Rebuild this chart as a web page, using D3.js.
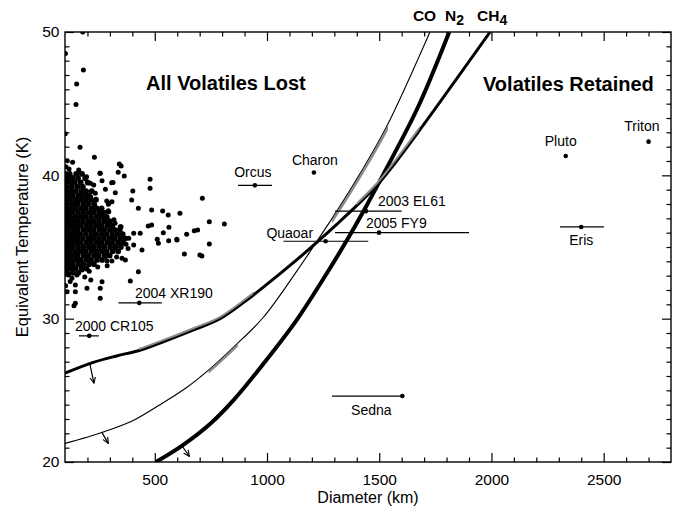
<!DOCTYPE html>
<html><head><meta charset="utf-8">
<script src="https://cdn.jsdelivr.net/npm/d3@7"></script>
<style>
body{margin:0;background:#fff}
svg{display:block}
text{font-family:"Liberation Sans",Arial,Helvetica,sans-serif;fill:#000}
</style>
</head><body>
<svg id="c" width="676" height="508"></svg>
<script>
// ---------- DATA ----------
const xDomain = [100, 2800];
const yDomain = [20, 50];
const xTicksMajor = [500, 1000, 1500, 2000, 2500];
const xTickLabels = ["500", "1000", "1500", "2000", "2500"];
const yTicksMajor = [20, 30, 40, 50];
const yTickLabels = ["20", "30", "40", "50"];

// Volatile retention curves [diameter km, temperature K]
const curveCO = [[100,21.3],[271,22.1],[404,22.9],[523,24.0],[642,25.2],[746,26.5],[850,28.0],[984,30.1],[1132,33.3],[1214,35.2],[1311,37.5],[1414,40.1],[1533,43.4],[1726,50.0]];
const curveN2 = [[505,20.0],[627,21.2],[746,22.65],[850,24.3],[984,26.85],[1132,29.9],[1236,32.4],[1340,35.05],[1444,37.9],[1533,40.5],[1674,44.8],[1812,50.0]];
const curveCH4 = [[100,26.2],[226,26.95],[330,27.4],[434,27.8],[523,28.3],[670,29.2],[791,30.0],[893,31.1],[984,32.2],[1132,34.1],[1227,35.4],[1312,36.6],[1401,37.9],[1490,39.3],[1548,40.4],[1673,43.0],[1994,50.0]];
// grey (alternate) portions of curves: diameter ranges
const greyCO = [[740,870],[1290,1540]];
const greyCH4 = [[430,940],[1400,1680]];
// arrows [D0,T0,D1,T1]
const arrowsData = [[210,26.9,229,25.5],[263,22.1,293,21.3],[620,21.15,654,20.4]];

// Named objects: name, D, T, Dlow, Dhigh
const objNames = ["Orcus","Charon","Quaoar","2003 EL61","2005 FY9","2004 XR190","2000 CR105","Sedna","Pluto","Eris","Triton"];
const objD =     [946, 1209, 1261, 1441, 1499, 431, 208, 1603, 2331, 2400, 2700];
const objT =     [39.3, 40.2, 35.4, 37.5, 36.0, 31.1, 28.8, 24.6, 41.35, 36.4, 42.35];
const objDlo =   [871, null, 1073, 1303, 1303, 338, 162, 1290, null, 2305, null];
const objDhi =   [1022, null, 1451, 1600, 1900, 531, 251, 1603, null, 2501, null];

// KBO scatter: isolated points [D,T]
const kboSparse = [
[179,50.0],[102,48.5],[182,47.35],[152,46.37],[149,44.95],[101,42.9],[167,41.96],[231,41.26],[110,41.02],[134,40.91],
[342,40.79],[350,40.65],[256,40.14],[337,40.21],[364,39.95],[479,39.72],[479,39.1],[308,39.49],[402,38.91],[397,38.28],
[427,37.7],[486,37.58],[535,37.51],[560,37.23],[612,37.35],[712,38.4],[743,36.77],[810,36.6],[471,36.47],[486,36.54],
[538,36.0],[563,36.38],[598,35.54],[642,35.89],[676,36.14],[691,36.19],[743,35.21],[632,34.51],[701,34.44],[710,34.37],
[511,35.54],[516,35.26],[562,35.44],[427,33.28],[286,38.21],[293,37.98],[293,37.53],[323,36.65],[350,36.42],[406,35.96],
[435,35.96],[599,35.49],[406,35.14],[443,34.79],[384,35.61],[354,34.21],[369,34.09],[280,34.32],[287,34.02],[309,34.02],
[176,33.4],[153,33.05],[116,33.05],[131,32.82],[265,32.58],[391,32.63],[146,32.35],[198,32.12],[257,32.12],[109,31.88],
[146,31.88],[257,31.42],[146,31.07],[140,30.9],[346,36.42],[280,39.03],[314,39.5],[228,39.33],[213,39.44],[265,39.63],
[235,38.75],[324,38.79],[309,38.16],[295,38.05],[243,37.7],[295,37.46],[257,40.14],[161,40.37],[168,40.14],
[104,40.6],[118,40.45],[196,39.9],[214,38.5],[232,37.95],[254,37.3],[318,36.9],[372,35.2],[381,34.9],[330,34.3],
[288,33.7],[246,33.6],[208,33.3],[123,32.6],[103,32.3],[188,32.9],[215,32.7]
];
// KBO dense cluster rows: temperature and diameters
const kboRowT = [40.1,39.8,39.5,39.2,38.9,38.6,38.3,38.0,37.7,37.4,37.1,36.8,36.5,36.2,35.9,35.6,35.3,35.0,34.7,34.4,34.1,33.8,33.5,33.2];
const kboRowD = [
[103,121,150,176],
[110,133,158,190],
[101,124,144,170,201],
[108,131,156,180],
[102,125,147,172,194,219],
[112,135,160,183,206],
[101,123,146,168,193,216,238],
[110,134,156,181,203,229],
[102,124,147,171,193,218,240,263],
[112,134,158,181,206,228,252,274],
[101,123,146,170,192,216,241,263,286],
[111,133,157,180,204,227,251,276,299],
[102,124,146,170,194,216,240,263,288,311],
[112,135,157,182,205,228,253,275,300,322,344],
[101,124,146,168,193,217,239,264,286,311,333,357],
[111,133,157,180,205,227,251,274,299,321,346,368],
[102,125,147,169,194,216,241,263,288,310,336,358],
[112,134,158,181,206,228,252,275,301,324,349],
[101,123,147,169,192,217,239,264,286,313,337],
[111,135,156,182,203,229,250,277,299],
[102,124,148,169,194,216,242,265],
[112,134,159,181,207,229],
[101,125,147,173,196],
[110,135,159]
];

// ---------- LAYOUT ----------
const W = 676, H = 508;
const m = {left:65, right:5, top:32, bottom:46};
const iw = W - m.left - m.right, ih = H - m.top - m.bottom;
const svg = d3.select("#c");
const g = svg.append("g").attr("transform", `translate(${m.left},${m.top})`);
const x = d3.scaleLinear().domain(xDomain).range([0, iw]);
const y = d3.scaleLinear().domain(yDomain).range([ih, 0]);

const defs = svg.append("defs");
defs.append("clipPath").attr("id","plotclip")
  .append("rect").attr("x",0).attr("y",0).attr("width",iw).attr("height",ih);

const FONT = '"Liberation Sans",Arial,Helvetica,sans-serif';

// ---------- AXES ----------
const xMinor = d3.range(200, 2800, 100).filter(v => v % 500 !== 0);
const yMinor = d3.range(21, 50, 1).filter(v => v % 10 !== 0);
const MAJ = 9, MIN = 4.5;
function styleAxis(sel){
  sel.select(".domain").remove();
  sel.selectAll("line").attr("stroke","#000").attr("stroke-width",1.2);
  sel.selectAll("text").style("font-family",FONT).style("font-size","15.5px").attr("fill","#000");
}
g.append("g").attr("transform",`translate(0,${ih})`)
  .call(d3.axisBottom(x).tickValues(xTicksMajor).tickSize(-MAJ).tickPadding(11.5).tickFormat((d,i)=>xTickLabels[i]))
  .call(styleAxis);
g.append("g").attr("transform",`translate(0,${ih})`)
  .call(d3.axisBottom(x).tickValues(xMinor).tickSize(-MIN).tickFormat(""))
  .call(styleAxis);
g.append("g")
  .call(d3.axisTop(x).tickValues(xTicksMajor).tickSize(-MAJ).tickFormat(""))
  .call(styleAxis);
g.append("g")
  .call(d3.axisTop(x).tickValues(xMinor).tickSize(-MIN).tickFormat(""))
  .call(styleAxis);
g.append("g")
  .call(d3.axisLeft(y).tickValues(yTicksMajor).tickSize(-MAJ).tickPadding(5.5).tickFormat((d,i)=>yTickLabels[i]))
  .call(styleAxis);
g.append("g")
  .call(d3.axisLeft(y).tickValues(yMinor).tickSize(-MIN).tickFormat(""))
  .call(styleAxis);
g.append("g").attr("transform",`translate(${iw},0)`)
  .call(d3.axisRight(y).tickValues(yTicksMajor).tickSize(-MAJ).tickFormat(""))
  .call(styleAxis);
g.append("g").attr("transform",`translate(${iw},0)`)
  .call(d3.axisRight(y).tickValues(yMinor).tickSize(-MIN).tickFormat(""))
  .call(styleAxis);

g.append("rect").attr("x",0).attr("y",0).attr("width",iw).attr("height",ih)
  .attr("fill","none").attr("stroke","#000").attr("stroke-width",1.4);

// axis titles
svg.append("text").attr("x", m.left + iw / 2).attr("y", 503)
  .attr("text-anchor","middle").style("font-size","16px").text("Diameter (km)");
svg.append("text").attr("transform",`translate(28,${m.top + y(35.7)}) rotate(-90)`)
  .attr("text-anchor","middle").style("font-size","16.5px").text("Equivalent Temperature (K)");

// ---------- SCATTER ----------
const plot = g.append("g").attr("clip-path","url(#plotclip)");
plot.append("g").selectAll("circle").data(kboSparse).join("circle")
  .attr("cx", d => x(d[0])).attr("cy", d => y(d[1])).attr("r", 2.5).attr("fill","#000");
const kboDense = [];
kboRowT.forEach((t,i) => kboRowD[i].forEach(d => kboDense.push([d,t])));
plot.append("g").selectAll("circle").data(kboDense).join("circle")
  .attr("cx", d => x(d[0])).attr("cy", d => y(d[1])).attr("r", 2.9).attr("fill","#000");

// ---------- CURVES ----------
const line = d3.line().x(d => x(d[0])).y(d => y(d[1])).curve(d3.curveCatmullRom.alpha(0.5));
plot.append("path").datum(curveCO).attr("d", line).attr("fill","none").attr("stroke","#000").attr("stroke-width",1.1);
plot.append("path").datum(curveCH4).attr("d", line).attr("fill","none").attr("stroke","#000").attr("stroke-width",3);
plot.append("path").datum(curveN2).attr("d", line).attr("fill","none").attr("stroke","#000").attr("stroke-width",4);

function greySegs(curve, segs, key, dx, dy, w){
  segs.forEach((s,i) => {
    const id = `gclip_${key}_${i}`;
    defs.append("clipPath").attr("id", id).append("rect")
      .attr("x", x(s[0])).attr("y", 0).attr("width", x(s[1]) - x(s[0])).attr("height", ih);
    plot.append("g").attr("clip-path", `url(#${id})`)
      .append("path").datum(curve).attr("d", line)
      .attr("transform", `translate(${dx},${dy})`)
      .attr("fill","none").attr("stroke","#8a8a8a").attr("stroke-width", w);
  });
}
greySegs(curveCH4, greyCH4, "ch4", -0.7, -1.4, 2.0);
greySegs(curveCO, greyCO, "co", 1.6, 0.5, 2.4);

// arrows
defs.append("marker").attr("id","ah").attr("viewBox","0 0 8 8").attr("refX",7).attr("refY",4)
  .attr("markerWidth",7).attr("markerHeight",7).attr("markerUnits","userSpaceOnUse").attr("orient","auto")
  .append("path").attr("d","M0,0.8 L7,4 L0,7.2").attr("fill","none").attr("stroke","#000").attr("stroke-width",1.3);
g.append("g").selectAll("line").data(arrowsData).join("line")
  .attr("x1", d => x(d[0])).attr("y1", d => y(d[1]))
  .attr("x2", d => x(d[2])).attr("y2", d => y(d[3]))
  .attr("stroke","#000").attr("stroke-width",1.2).attr("marker-end","url(#ah)");

// ---------- NAMED OBJECTS ----------
const labelPos = { // pixel offsets from the dot, and anchor
  "Orcus":[-2,-8,"middle"], "Charon":[1,-7,"middle"], "Quaoar":[-12.5,-3,"end"],
  "2003 EL61":[12,-5.5,"start"], "2005 FY9":[-13,-4.5,"start"], "2004 XR190":[-4.3,-4.7,"start"],
  "2000 CR105":[-14.3,-5,"start"], "Sedna":[-31,19,"middle"], "Pluto":[-5,-10,"middle"],
  "Eris":[0,18.3,"middle"], "Triton":[-6.7,-11,"middle"]
};
const og = g.append("g");
objNames.forEach((n,i) => {
  const cx = x(objD[i]), cy = y(objT[i]);
  if (objDlo[i] !== null) {
    og.append("line").attr("x1", x(objDlo[i])).attr("x2", x(objDhi[i]))
      .attr("y1", cy).attr("y2", cy).attr("stroke","#000").attr("stroke-width",1.2);
  }
  og.append("circle").attr("cx", cx).attr("cy", cy).attr("r", 2.3).attr("fill","#000");
  const p = labelPos[n];
  og.append("text").attr("x", cx + p[0]).attr("y", cy + p[1]).attr("text-anchor", p[2])
    .style("font-size","14px").text(n);
});

// region labels
g.append("text").attr("x", x(817)).attr("y", 58).attr("text-anchor","middle")
  .style("font-size","20px").style("font-weight","bold").text("All Volatiles Lost");
g.append("text").attr("x", x(2343)).attr("y", 58.7).attr("text-anchor","middle")
  .style("font-size","20px").style("font-weight","bold").text("Volatiles Retained");

// curve labels above plot
const lab = svg.append("g").style("font-size","15.5px").style("font-weight","bold");
lab.append("text").attr("x", m.left + x(1650)).attr("y", 20.7).text("CO");
const tn = lab.append("text").attr("x", m.left + x(1793)).attr("y", 20.7);
tn.append("tspan").text("N");
tn.append("tspan").attr("dy", 4).style("font-size","14px").text("2");
const tc = lab.append("text").attr("x", m.left + x(1936)).attr("y", 20.7);
tc.append("tspan").text("CH");
tc.append("tspan").attr("dy", 4).style("font-size","14px").text("4");
</script>
</body></html>
